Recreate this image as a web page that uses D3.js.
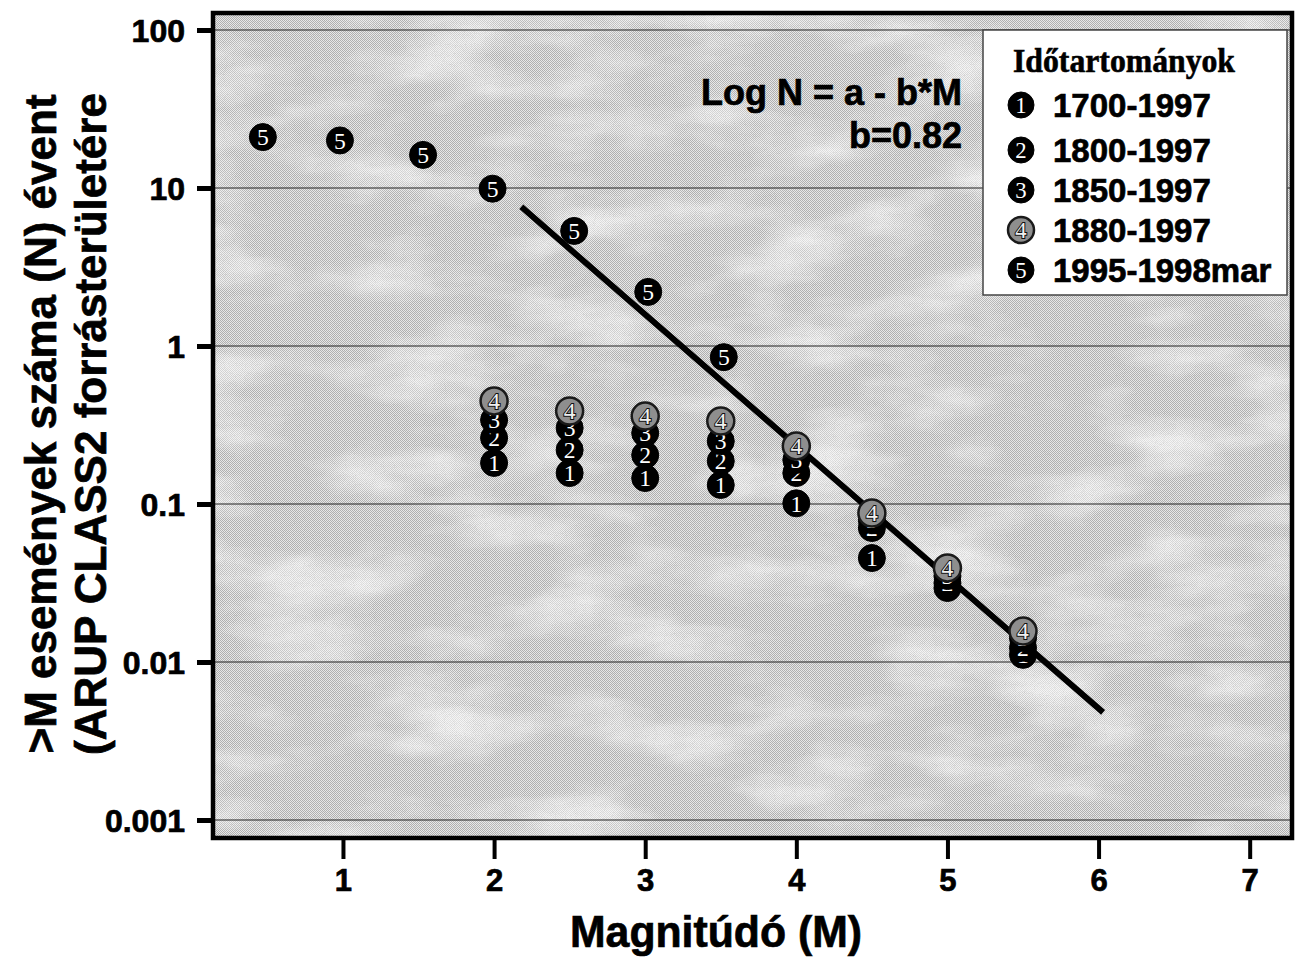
<!DOCTYPE html>
<html lang="hu">
<head>
<meta charset="UTF-8">
<script src="https://d3js.org/d3.v7.min.js"></script>
<title>Gutenberg-Richter</title>
<style>
  body { margin: 0; background: #fff; }
  svg { display: block; }
  text { font-family: "Liberation Sans", Arial, sans-serif; font-weight: bold; fill: #000; }
  .heavy { stroke: #000; stroke-width: 0.7; }
  .num { font-family: "Liberation Serif", "Times New Roman", serif; font-weight: normal; paint-order: stroke; }
</style>
</head>
<body>
<svg width="1304" height="962"></svg>
<script>
// magnitudes of the binned columns
const mags = [2, 2.5, 3, 3.5, 4, 4.5, 5, 5.5]
// cumulative yearly counts
const s1700 = [0.182, 0.157, 0.146, 0.132, 0.101, 0.0455, 0.0294, 0.0111]
const s1800 = [0.262, 0.22, 0.204, 0.187, 0.157, 0.0705, 0.0316, 0.0123]
const s1850 = [0.34, 0.303, 0.281, 0.25, 0.19, 0.079, 0.035, 0.0142]
const s1880 = [0.449, 0.388, 0.36, 0.335, 0.233, 0.0877, 0.0394, 0.0157]
// 1995-1998 series has its own magnitudes
const mags5 = [0.47, 0.98, 1.53, 1.99, 2.53, 3.02, 3.52]
const s1995 = [21, 20, 16.2, 9.9, 5.35, 2.2, 0.85]
// fitted line end points
const fitM = [2.18, 6.03]
const fitN = [7.6, 0.0048]

const legendLabels = ["1700-1997", "1800-1997", "1850-1997", "1880-1997", "1995-1998mar"]
const yTicks = [0.001, 0.01, 0.1, 1, 10, 100]
const yTickLabels = ["0.001", "0.01", "0.1", "1", "10", "100"]
const xTicks = [1, 2, 3, 4, 5, 6, 7]

const svg = d3.select("svg")
const plot = { left: 213, top: 13, right: 1292, bottom: 838 }

const x = d3.scaleLinear().domain([0.14, 7.28]).range([plot.left, plot.right])
const y = d3.scaleLog().domain([0.001, 100]).range([820, 30])

// background texture (scanned halftone look)
const defs = svg.append("defs")
const pat = defs.append("pattern").attr("id", "dither")
  .attr("width", 2).attr("height", 2).attr("patternUnits", "userSpaceOnUse")
pat.append("rect").attr("width", 2).attr("height", 2).attr("fill", "#e8e8e8")
pat.append("rect").attr("width", 1).attr("height", 1).attr("fill", "#b0b0b0")
pat.append("rect").attr("x", 1).attr("y", 1).attr("width", 1).attr("height", 1).attr("fill", "#b0b0b0")
const flt = defs.append("filter").attr("id", "mottle")
  .attr("x", 0).attr("y", 0).attr("width", 1).attr("height", 1)
flt.append("feTurbulence").attr("type", "fractalNoise")
  .attr("baseFrequency", "0.008 0.02").attr("numOctaves", 4).attr("seed", 11)
flt.append("feColorMatrix").attr("type", "matrix")
  .attr("values", "0 0 0 0 1  0 0 0 0 1  0 0 0 0 1  2.6 0 0 0 -1.15")
const grain = defs.append("filter").attr("id", "grain")
  .attr("x", 0).attr("y", 0).attr("width", 1).attr("height", 1)
grain.append("feTurbulence").attr("type", "fractalNoise")
  .attr("baseFrequency", "0.9").attr("numOctaves", 1).attr("seed", 3)
grain.append("feColorMatrix").attr("type", "matrix")
  .attr("values", "0 0 0 0 0.3  0 0 0 0 0.3  0 0 0 0 0.3  3 0 0 0 -1.7")
defs.append("clipPath").attr("id", "clip").append("rect")
  .attr("x", plot.left).attr("y", plot.top)
  .attr("width", plot.right - plot.left).attr("height", plot.bottom - plot.top)

const bg = () => svg.append("rect").attr("x", plot.left).attr("y", plot.top)
  .attr("width", plot.right - plot.left).attr("height", plot.bottom - plot.top)
bg().attr("fill", "url(#dither)")
bg().attr("filter", "url(#mottle)").attr("opacity", 0.6)
bg().attr("filter", "url(#grain)").attr("opacity", 0.3)

// horizontal grid
svg.append("g").selectAll("line").data(yTicks).enter().append("line")
  .attr("x1", plot.left).attr("x2", plot.right)
  .attr("y1", d => y(d)).attr("y2", d => y(d))
  .attr("stroke", "#222").attr("stroke-width", 1.2)

// axes
const yAxis = svg.append("g").attr("transform", `translate(${plot.left},0)`)
  .call(d3.axisLeft(y).tickValues(yTicks).tickFormat((d, i) => yTickLabels[i]).tickSize(16).tickPadding(12))
yAxis.select(".domain").remove()
yAxis.selectAll(".tick line").attr("stroke", "#000").attr("stroke-width", 5)
yAxis.selectAll(".tick text").attr("font-size", 32).attr("font-family", null)
  .attr("dy", "0.35em").attr("class", "heavy")

const xAxis = svg.append("g").attr("transform", `translate(0,${plot.bottom})`)
  .call(d3.axisBottom(x).tickValues(xTicks).tickFormat(d3.format("d")).tickSize(21).tickPadding(10))
xAxis.select(".domain").remove()
xAxis.selectAll(".tick line").attr("stroke", "#000").attr("stroke-width", 4)
xAxis.selectAll(".tick text").attr("font-size", 31).attr("font-family", null)
  .attr("class", "heavy")
  .style("font-family", "'Liberation Sans Narrow', 'Liberation Sans', sans-serif")

// fit line
svg.append("path").datum(fitM.map((m, i) => [m, fitN[i]]))
  .attr("d", d3.line().x(d => x(d[0])).y(d => y(d[1])))
  .attr("stroke", "#000").attr("stroke-width", 6).attr("fill", "none")

// markers
function marker(g, digit, grey, r) {
  g.append("circle").attr("r", r)
    .attr("fill", grey ? "#8e8e8e" : "#000")
    .attr("stroke", grey ? "#1a1a1a" : "#000").attr("stroke-width", grey ? 2.5 : 1)
  g.append("text").attr("class", "num").attr("text-anchor", "middle").attr("dy", "0.35em")
    .attr("font-size", r * 1.75)
    .attr("stroke", grey ? "#111" : "none").attr("stroke-width", 2)
    .style("fill", grey ? "#f0f0f0" : "#fff")
    .text(digit)
}

const series = [
  { m: mags, v: s1700, digit: "1" },
  { m: mags, v: s1800, digit: "2" },
  { m: mags, v: s1850, digit: "3" },
  { m: mags, v: s1880, digit: "4", grey: true },
  { m: mags5, v: s1995, digit: "5" }
]
const pts = svg.append("g").attr("clip-path", "url(#clip)")
series.forEach(s => {
  s.m.forEach((m, i) => {
    const g = pts.append("g").attr("transform", `translate(${x(m)},${y(s.v[i])})`)
    marker(g, s.digit, s.grey, 13.5)
  })
})

// frame
svg.append("rect").attr("x", plot.left).attr("y", plot.top)
  .attr("width", plot.right - plot.left).attr("height", plot.bottom - plot.top)
  .attr("fill", "none").attr("stroke", "#000").attr("stroke-width", 4.5)

// equation
svg.append("text").attr("x", 962).attr("y", 105).attr("text-anchor", "end")
  .attr("class", "heavy").attr("font-size", 36).text("Log N = a - b*M")
svg.append("text").attr("x", 962).attr("y", 148).attr("text-anchor", "end")
  .attr("class", "heavy").attr("font-size", 36).text("b=0.82")

// legend
const lg = svg.append("g")
lg.append("rect").attr("x", 983).attr("y", 30).attr("width", 304).attr("height", 265)
  .attr("fill", "#fff").attr("stroke", "#444").attr("stroke-width", 1.5)
lg.append("text").attr("x", 1013).attr("y", 72)
  .style("font-family", "'Liberation Serif', serif").attr("stroke", "#000").attr("stroke-width", 0.6)
  .attr("font-size", 33).attr("textLength", 222).attr("lengthAdjust", "spacingAndGlyphs")
  .text("Időtartományok")
const rowY = [105, 150, 190, 230, 270]
legendLabels.forEach((lab, i) => {
  const g = lg.append("g").attr("transform", `translate(1021,${rowY[i]})`)
  marker(g, String(i + 1), i === 3, 13)
  lg.append("text").attr("x", 1053).attr("y", rowY[i]).attr("dy", "0.36em")
    .attr("class", "heavy").attr("font-size", 33).text(lab)
})

// axis titles
svg.append("text").attr("x", 716).attr("y", 947).attr("text-anchor", "middle")
  .attr("class", "heavy").attr("font-size", 44)
  .attr("textLength", 292).attr("lengthAdjust", "spacingAndGlyphs")
  .text("Magnitúdó (M)")
const yl = svg.append("g").attr("transform", "translate(0,424) rotate(-90)")
yl.append("text").attr("x", 0).attr("y", 56).attr("text-anchor", "middle")
  .attr("class", "heavy").attr("font-size", 44).text(">M események száma (N) évent")
yl.append("text").attr("x", 0).attr("y", 106).attr("text-anchor", "middle")
  .attr("class", "heavy").attr("font-size", 44).text("(ARUP CLASS2 forrásterületére")
</script>
</body>
</html>
